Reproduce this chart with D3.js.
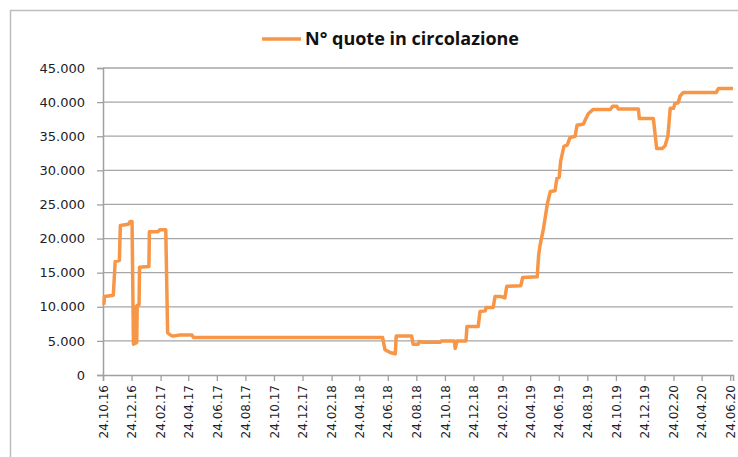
<!DOCTYPE html>
<html>
<head>
<meta charset="utf-8">
<script src="https://cdn.jsdelivr.net/npm/d3@7"></script>
<style>
  body { margin: 0; background: #fff; }
  svg { display: block; }
</style>
</head>
<body>
<div id="chart"></div>
<script>
// data
const seriesName = "N° quote in circolazione";

const dates = [
  "26.10.16", "27.10.16", "15.11.16", "19.11.16", "28.11.16", "30.11.16", "17.12.16", "21.12.16",
  "25.12.16", "28.12.16", "30.12.16", "01.01.17", "04.01.17", "05.01.17", "09.01.17", "10.01.17",
  "30.01.17", "31.01.17", "18.02.17", "23.02.17", "07.03.17", "11.03.17", "16.03.17", "22.03.17",
  "06.04.17", "02.05.17", "05.05.17", "13.06.18", "18.06.18", "29.06.18", "10.07.18", "12.07.18",
  "14.08.18", "17.08.18", "28.08.18", "30.08.18", "08.09.18", "14.10.18", "16.10.18", "13.11.18",
  "15.11.18", "19.11.18", "08.12.18", "10.12.18", "03.01.19", "07.01.19", "18.01.19", "20.01.19",
  "04.02.19", "08.02.19", "21.02.19", "01.03.19", "05.03.19", "04.04.19", "08.04.19", "09.05.19",
  "12.05.19", "15.05.19", "22.05.19", "31.05.19", "06.06.19", "16.06.19", "20.06.19", "25.06.19",
  "28.06.19", "05.07.19", "12.07.19", "18.07.19", "29.07.19", "02.08.19", "16.08.19", "19.08.19",
  "26.08.19", "05.09.19", "12.10.19", "17.10.19", "26.10.19", "29.10.19", "11.12.19", "13.12.19",
  "12.01.20", "19.01.20", "31.01.20", "06.02.20", "12.02.20", "17.02.20", "24.02.20", "27.02.20",
  "05.03.20", "09.03.20", "16.03.20", "25.05.20", "30.05.20", "30.06.20"
];

const values = [
  10300, 11500, 11700, 16600, 16800, 21900, 22100, 22500,
  22500, 4500, 10000, 4600, 4800, 10200, 10300, 15800,
  15900, 21000, 21000, 21300, 21300, 6200, 5900, 5700,
  5850, 5850, 5500, 5500, 3700, 3300, 3100, 5700,
  5700, 4500, 4500, 4900, 4800, 4800, 5000, 5000,
  3900, 5000, 5000, 7100, 7100, 9300, 9400, 9900,
  9900, 11500, 11500, 11300, 13000, 13100, 14300, 14400,
  17500, 19000, 21300, 25200, 26900, 27000, 28800, 29000,
  31300, 33500, 33700, 34800, 35000, 36600, 36800, 37300,
  38300, 38900, 38900, 39400, 39400, 39000, 39000, 37600,
  37600, 33200, 33200, 33600, 35000, 39100, 39100, 39800,
  39900, 40900, 41400, 41400, 42000, 42000
];

const xTickLabels = [
  "24.10.16", "24.12.16", "24.02.17", "24.04.17", "24.06.17", "24.08.17", "24.10.17", "24.12.17",
  "24.02.18", "24.04.18", "24.06.18", "24.08.18", "24.10.18", "24.12.18", "24.02.19", "24.04.19",
  "24.06.19", "24.08.19", "24.10.19", "24.12.19", "24.02.20", "24.04.20", "24.06.20"
];

const yTicks = [0, 5000, 10000, 15000, 20000, 25000, 30000, 35000, 40000, 45000];

const width = 738, height = 457;
const margin = { top: 68, right: 5, bottom: 82, left: 103 };
const lineColor = "#f79646";

const parseDate = d3.timeParse("%d.%m.%y");
const data = dates.map((d, i) => ({ date: parseDate(d), value: values[i] }));

const svg = d3.select("#chart")
  .append("svg")
  .attr("width", width)
  .attr("height", height);

// chart frame (top and left edge visible)
svg.append("path")
  .attr("d", `M10.5,${height} L10.5,10.5 L${width},10.5`)
  .attr("fill", "none")
  .attr("stroke", "#bdbdbd")
  .attr("stroke-width", 1.5);

const chart = svg.append("g")
  .attr("transform", `translate(${margin.left},${margin.top})`);

const innerW = width - margin.left - margin.right;
const innerH = height - margin.top - margin.bottom;

const x = d3.scaleTime()
  .domain([parseDate("24.10.16"), parseDate("30.06.20")])
  .range([0, innerW]);

const y = d3.scaleLinear()
  .domain([0, 45000])
  .range([innerH, 0]);

const fmt = v => v === 0 ? "0" : d3.format(",")(v).replace(/,/g, ".");

// gridlines
chart.append("g")
  .selectAll("line")
  .data(yTicks.filter(d => d > 0))
  .join("line")
  .attr("x1", 0)
  .attr("x2", innerW)
  .attr("y1", d => y(d))
  .attr("y2", d => y(d))
  .attr("stroke", "#a6a6a6")
  .attr("stroke-width", 1.3);

// y axis
const yAxis = chart.append("g")
  .call(d3.axisLeft(y).tickValues(yTicks).tickFormat(fmt).tickSize(6).tickPadding(12));
yAxis.select(".domain").attr("stroke", "#a0a0a0").attr("stroke-width", 1.5);
yAxis.selectAll(".tick line").attr("stroke", "#a0a0a0").attr("stroke-width", 1.3);
yAxis.selectAll("text")
  .attr("fill", "#1c1c2a")
  .style("font-family", "DejaVu Sans, sans-serif")
  .style("font-size", "13px");

// x axis
const xAxis = chart.append("g")
  .attr("transform", `translate(0,${innerH})`)
  .call(d3.axisBottom(x)
    .tickValues(xTickLabels.map(parseDate))
    .tickFormat(d3.timeFormat("%d.%m.%y"))
    .tickSize(6));
xAxis.select(".domain").attr("stroke", "#a0a0a0").attr("stroke-width", 1.5);
xAxis.selectAll(".tick line").attr("stroke", "#a0a0a0").attr("stroke-width", 1.3);
xAxis.selectAll("text")
  .attr("fill", "#1c1c2a")
  .style("font-family", "DejaVu Sans, sans-serif")
  .style("font-size", "12px")
  .attr("text-anchor", "end")
  .attr("transform", "rotate(-90)")
  .attr("x", -10)
  .attr("y", 0)
  .attr("dy", "0.35em");

// series line
const line = d3.line()
  .x(d => x(d.date))
  .y(d => y(d.value));

chart.append("path")
  .datum(data)
  .attr("fill", "none")
  .attr("stroke", lineColor)
  .attr("stroke-width", 3.5)
  .attr("stroke-linejoin", "round")
  .attr("d", line);

// legend at top
const legend = svg.append("g").attr("transform", "translate(262,39)");
legend.append("line")
  .attr("x1", 0).attr("x2", 39)
  .attr("stroke", lineColor)
  .attr("stroke-width", 3.5);
legend.append("text")
  .attr("x", 43)
  .attr("y", 6)
  .attr("fill", "#111")
  .attr("textLength", 214)
  .attr("lengthAdjust", "spacingAndGlyphs")
  .style("font-family", "Open Sans, sans-serif")
  .style("font-weight", "bold")
  .style("font-size", "17px")
  .text(seriesName);
</script>
</body>
</html>
